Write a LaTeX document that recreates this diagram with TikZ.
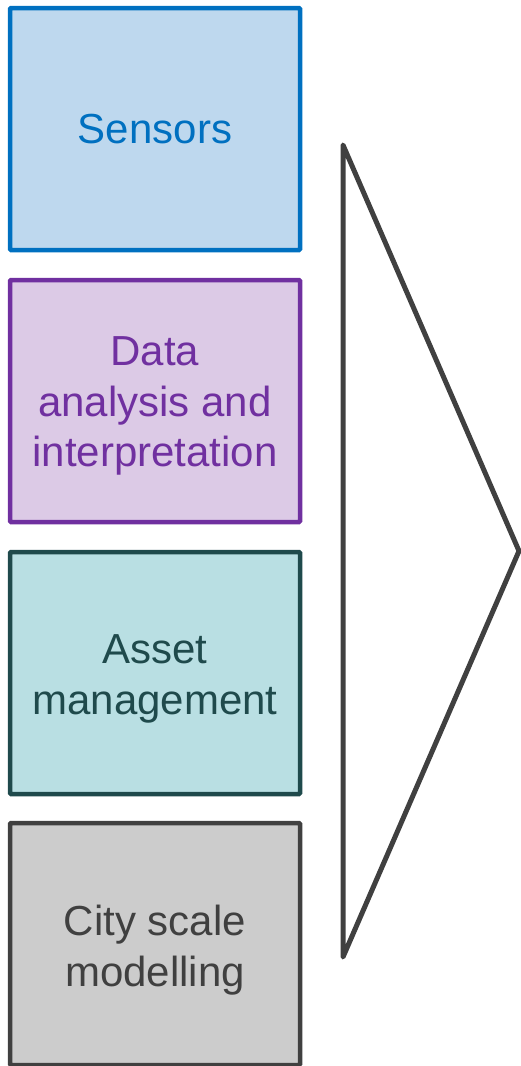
\documentclass[tikz,border=0pt]{standalone}
\usepackage{fontspec}
\setmainfont{Liberation Sans}
\definecolor{sensEdge}{HTML}{0070C0}
\definecolor{sensFill}{HTML}{BED8EE}
\definecolor{dataEdge}{HTML}{7030A0}
\definecolor{dataFill}{HTML}{DCCAE6}
\definecolor{assetEdge}{HTML}{1F4A4C}
\definecolor{assetFill}{HTML}{B9DFE3}
\definecolor{cityEdge}{HTML}{404040}
\definecolor{cityFill}{HTML}{CCCCCC}
\tikzset{
  stage/.style={draw=#1Edge, fill=#1Fill, line width=4.5pt,
    rounded corners=1pt, minimum width=290pt, minimum height=242pt,
    inner sep=0pt, outer sep=0pt},
  caption/.style={align=center, inner sep=0pt,
    font=\fontsize{42}{50.4}\selectfont},
  funnel/.style={draw=cityEdge, line width=5pt, line join=round, line cap=round}
}
\begin{document}
\begin{tikzpicture}[x=1pt,y=-1pt]
  \useasboundingbox (0,0) rectangle (521,1066);
  % the four stages, each caption centred (multi-line ones slightly lower)
  \node[stage=sens,  label={[caption, text=sensEdge]center:Sensors}] (sensors) at (155,129) {};
  \node[stage=data,  label={[caption, text=dataEdge, yshift=-5pt]center:{Data\\analysis and\\interpretation}}] (data) at (155,401) {};
  \node[stage=asset, label={[caption, text=assetEdge, yshift=-6pt]center:{Asset\\management}}] (asset) at (155,673) {};
  \node[stage=city,  label={[caption, text=cityEdge, yshift=-6pt]center:{City scale\\modelling}}] (city) at (155,944) {};
  % wedge pointing right, collecting the four stages
  \coordinate (top) at (343,145);
  \coordinate (tip) at (519,551);
  \coordinate (bot) at (343,957);
  \draw[funnel] (top) -- (tip) -- (bot) -- cycle;
\end{tikzpicture}
\end{document}
